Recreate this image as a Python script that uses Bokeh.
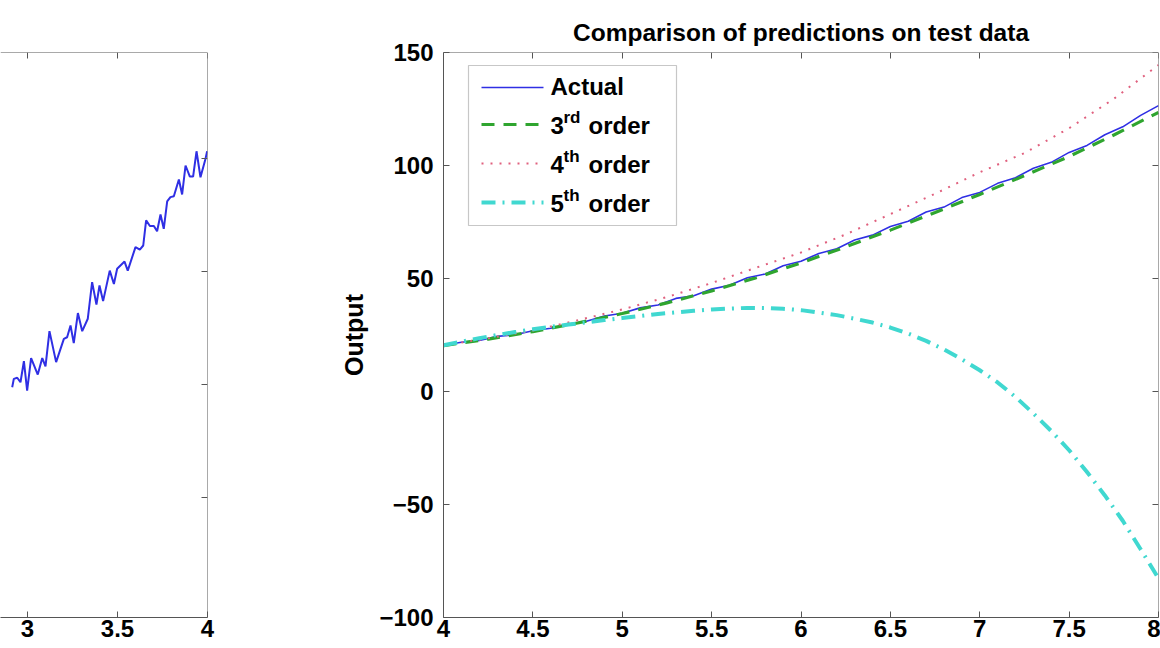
from bokeh.plotting import figure
from bokeh.models import (LinearAxis, FixedTicker, Range1d, Label, BoxAnnotation,
                          Arrow, CustomJSTickFormatter)
from bokeh.layouts import row
from bokeh.embed import file_html
from bokeh.resources import INLINE

# ---------------- data ----------------
# training data (left panel, partially visible)
train_x = [2.915, 2.924, 2.943, 2.961, 2.980, 2.998, 3.020, 3.057, 3.082, 3.100,
           3.122, 3.159, 3.202, 3.220, 3.239, 3.257, 3.280, 3.304, 3.335, 3.359,
           3.383, 3.400, 3.420, 3.457, 3.480, 3.498, 3.539, 3.557, 3.600, 3.624,
           3.643, 3.659, 3.680, 3.702, 3.720, 3.739, 3.757, 3.776, 3.794, 3.813,
           3.841, 3.859, 3.878, 3.902, 3.920, 3.939, 3.961, 3.989, 3.998]
train_y = [9.88, 10.25, 10.30, 10.10, 11.03, 9.73, 11.17, 10.44, 11.17, 10.80,
           12.36, 10.99, 12.02, 12.09, 12.61, 11.83, 13.16, 12.36, 12.91, 14.53,
           13.54, 14.38, 13.69, 15.04, 14.45, 15.12, 15.44, 15.04, 16.08, 15.97,
           16.15, 17.26, 17.01, 17.01, 16.78, 17.52, 16.89, 18.10, 18.29, 18.33,
           19.07, 18.41, 19.69, 19.20, 19.20, 20.32, 19.17, 19.99, 20.32]

# test data (right panel)
test_x = [4.0, 4.1, 4.2, 4.3, 4.4, 4.5, 4.6, 4.7, 4.8, 4.9,
          5.0, 5.1, 5.2, 5.3, 5.4, 5.5, 5.6, 5.7, 5.8, 5.9,
          6.0, 6.1, 6.2, 6.3, 6.4, 6.5, 6.6, 6.7, 6.8, 6.9,
          7.0, 7.1, 7.2, 7.3, 7.4, 7.5, 7.6, 7.7, 7.8, 7.9, 8.0]
actual = [20.5, 21.8, 22.6, 24.4, 25.1, 26.9, 28.0, 29.9, 31.1, 33.4,
          34.6, 37.0, 38.3, 41.2, 42.4, 45.3, 47.0, 50.3, 52.0, 55.6,
          57.6, 61.1, 63.2, 67.0, 69.2, 73.0, 75.3, 79.4, 81.6, 85.8,
          88.1, 92.1, 94.6, 98.8, 101.4, 105.8, 108.9, 113.6, 117.1, 122.2, 126.5]

fit_x = [4.0, 4.25, 4.5, 4.75, 5.0, 5.25, 5.5, 5.75, 6.0,
         6.25, 6.5, 6.75, 7.0, 7.25, 7.5, 7.75, 8.0]
order3 = [20.3, 23.2, 26.5, 30.3, 34.5, 39.2, 44.5, 50.4, 56.9,
          64.0, 71.4, 79.2, 87.2, 95.5, 104.0, 113.5, 123.5]
order4 = [20.5, 23.5, 27.0, 31.5, 36.3, 41.8, 48.0, 54.8, 61.5,
          69.5, 78.5, 87.5, 97.0, 105.5, 116.5, 129.5, 144.5]

order5 = [20.5, 22.0, 23.6, 25.0, 26.3, 27.5, 28.6, 29.6, 30.6, 31.6,
          32.5, 33.4, 34.3, 35.0, 35.7, 36.3, 36.7, 37.0, 36.9, 36.6,
          36.0, 34.9, 33.8, 32.2, 30.5, 28.3, 25.6, 22.4, 18.6, 14.2,
          9.4, 4.0, -2.4, -9.7, -17.5, -26.0, -35.6, -46.0, -57.2, -69.8, -82.7]

left_xticks = [3, 3.5, 4]
left_xlabels = ["3", "3.5", "4"]
left_yticks = [5, 10, 15, 20]
right_xticks = [4, 4.5, 5, 5.5, 6, 6.5, 7, 7.5, 8]
right_xlabels = ["4", "4.5", "5", "5.5", "6", "6.5", "7", "7.5", "8"]
right_yticks = [-100, -50, 0, 50, 100, 150]
right_ylabels = ["\u2212100", "\u221250", "0", "50", "100", "150"]

legend_main = ["Actual", "3", "4", "5"]
legend_sup = ["", "rd", "th", "th"]
legend_tail = ["", "order", "order", "order"]

title_text = "Comparison of predictions on test data"
ylabel_text = "Output"

# ---------------- style ----------------
FONT = "Liberation Sans"
AX = "#555555"
BLUE = "#2f2fe4"
GREEN = "#2fa52f"
RED = "#e0607e"
CYAN = "#40d8d0"
H = 648
TOP = 52
BOTTOM = 31

L_XR = (2.85, 4)
L_YR = (-0.31, 24.69)
R_XR = (4, 8)
R_YR = (-100, 150)


def add_axis(p, side, ticks, labels=None, standoff=6, lh=1.2, fixed=None):
    ax = LinearAxis(ticker=FixedTicker(ticks=ticks, minor_ticks=[]))
    ax.major_tick_in = 6
    ax.major_tick_out = 0
    ax.minor_tick_in = 0
    ax.minor_tick_out = 0
    ax.axis_line_color = AX
    ax.major_tick_line_color = AX
    ax.axis_line_width = 1
    if fixed is not None:
        ax.fixed_location = fixed
    if labels is not None:
        ax.major_label_overrides = {t: l for t, l in zip(ticks, labels)}
        ax.major_label_text_font = FONT
        ax.major_label_text_font_size = "24px"
        ax.major_label_text_font_style = "bold"
        ax.major_label_text_color = "black"
        ax.major_label_text_line_height = lh
        ax.major_label_standoff = standoff
    else:
        ax.formatter = CustomJSTickFormatter(code="return ''")
        ax.major_label_text_font_size = "0px"
        ax.major_label_standoff = 0
    p.add_layout(ax, side)
    return ax


# ---------------- left (training) panel ----------------
left = figure(width=330, height=H, x_range=Range1d(*L_XR), y_range=Range1d(*L_YR),
              output_backend="svg", toolbar_location=None, title=None,
              x_axis_location=None, y_axis_location=None,
              min_border_left=0, min_border_right=123,
              min_border_top=TOP, min_border_bottom=BOTTOM)
left.outline_line_color = None
left.xgrid.visible = False
left.ygrid.visible = False
add_axis(left, "below", left_xticks, left_xlabels, standoff=2, lh=0.7)
add_axis(left, "above", left_xticks, fixed=L_YR[1])
add_axis(left, "right", left_yticks, fixed=L_XR[1])
left.line(train_x, train_y, line_color=BLUE, line_width=2)

# ---------------- right (test) panel ----------------
right = figure(width=830, height=H, x_range=Range1d(*R_XR), y_range=Range1d(*R_YR),
               output_backend="svg", toolbar_location=None, title=title_text,
               x_axis_location=None, y_axis_location=None,
               min_border_left=113, min_border_right=2,
               min_border_top=TOP, min_border_bottom=BOTTOM)
right.outline_line_color = None
right.xgrid.visible = False
right.ygrid.visible = False
right.title.text_font = FONT
right.title.text_font_size = "24.5px"
right.title.text_font_style = "bold"
right.title.text_color = "black"
right.title.align = "center"
right.title.standoff = 14

add_axis(right, "below", right_xticks, right_xlabels, standoff=2, lh=0.7)
add_axis(right, "above", right_xticks, fixed=R_YR[1])
yax = add_axis(right, "left", right_yticks, right_ylabels, standoff=10)
yax.axis_label = ylabel_text
yax.axis_label_text_font = FONT
yax.axis_label_text_font_size = "25px"
yax.axis_label_text_font_style = "bold"
yax.axis_label_text_color = "black"
yax.axis_label_standoff = 8
add_axis(right, "right", right_yticks, fixed=R_XR[1])

right.line(test_x, actual, line_color=BLUE, line_width=1.6)
right.line(fit_x, order3, line_color=GREEN, line_width=3.2, line_dash="13 9")
right.line(fit_x, order4, line_color=RED, line_width=2, line_dash="2 7")
right.line(test_x, order5, line_color=CYAN, line_width=4, line_dash="14 7 2 7")

# ---------------- legend (frame-relative screen units) ----------------
TY = 9
right.add_layout(BoxAnnotation(left=25, right=233, top=552, bottom=392,
                               left_units="screen", right_units="screen",
                               top_units="screen", bottom_units="screen",
                               fill_color="white", fill_alpha=1.0,
                               line_color="#444444", line_width=1.2, level="annotation"))
styles = [(BLUE, 1.6, "solid"), (GREEN, 3.2, "13 9"), (RED, 2, "2 7"), (CYAN, 4, "14 7 2 7")]
line_ys = [530, 493, 454, 415]
base_ys = [522, 483, 444, 405]
for i in range(4):
    c, w, d = styles[i]
    right.add_layout(Arrow(x_start=38, y_start=line_ys[i], x_end=100, y_end=line_ys[i],
                           start_units="screen", end_units="screen", end=None,
                           line_color=c, line_width=w, line_dash=d))
    right.add_layout(Label(x=107, y=base_ys[i] + TY, x_units="screen", y_units="screen",
                           text=legend_main[i], text_font=FONT, text_font_size="24px",
                           text_font_style="bold", text_baseline="alphabetic",
                           text_align="left", text_color="black"))
    if legend_sup[i]:
        right.add_layout(Label(x=120, y=base_ys[i] + 8 + TY, x_units="screen", y_units="screen",
                               text=legend_sup[i], text_font=FONT, text_font_size="17px",
                               text_font_style="bold", text_baseline="alphabetic",
                               text_align="left", text_color="black"))
        right.add_layout(Label(x=145, y=base_ys[i] + TY, x_units="screen", y_units="screen",
                               text=legend_tail[i], text_font=FONT, text_font_size="24px",
                               text_font_style="bold", text_baseline="alphabetic",
                               text_align="left", text_color="black"))

layout = row(left, right)
open("out.html", "w").write(file_html(layout, INLINE))
